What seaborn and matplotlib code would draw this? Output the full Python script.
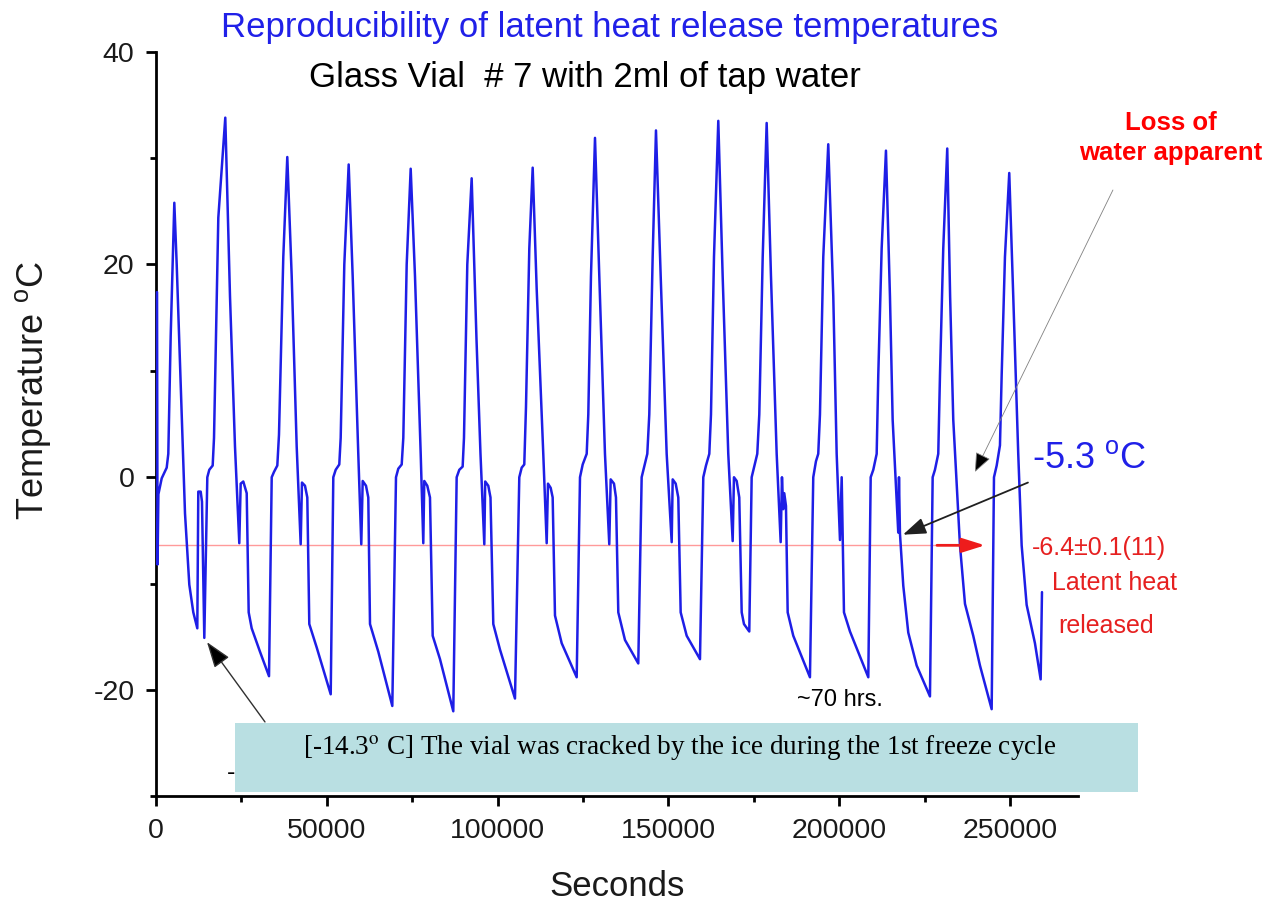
import matplotlib
matplotlib.use("Agg")
import matplotlib.pyplot as plt
from matplotlib.patches import Rectangle
from matplotlib.ticker import MultipleLocator
import seaborn as sns
import pandas as pd

# ---------------- data ----------------
time_s = [
    300, 450, 700, 1670, 3130, 3600, 4300, 5360, 6060, 7520, 8490, 9750, 10920, 12090, 12380, 13080, 13460, 14140,
    15020, 15600, 16590, 16980, 18240, 20280, 21660, 23120, 24380, 24790, 25550, 26550, 27130, 28010, 30440, 33080,
    33870, 34540, 35510, 36000, 37260, 38430, 39720, 41180, 42350, 42730, 43610, 44290, 44870, 47040, 51140,
    51900, 52600, 53650, 54060, 55120, 56400, 57570, 59210, 60090, 60500, 61470, 62140, 62640, 65070, 69170,
    70250, 70920, 71920, 72390, 73380, 74550, 75810, 77480, 78240, 78530, 79410, 80200, 80990, 83130, 87020,
    88010, 88780, 89760, 90150, 91120, 92400, 93810, 94980, 96100, 96360, 97270, 97910, 98730, 100690, 105080,
    106340, 107040, 107800, 108300, 109270, 110260, 111430, 113360, 114360, 114740, 115530, 116110, 116790, 118750, 123140,
    124110, 124900, 126070, 126540, 127320, 128500, 129760, 131420, 132680, 133090, 134060, 134640, 135320, 137280, 141170,
    142160, 142840, 143810, 144390, 145380, 146350, 147730, 149480, 150950, 151240, 152120, 152880, 153580, 155340, 159230,
    160200, 160990, 161960, 162450, 163330, 164590, 165870, 167510, 168800, 169180, 169970, 170730, 171440, 172110, 173660,
    174360, 175030, 176000, 176590, 177590, 178750, 180010, 181680, 182850, 183230, 183610, 183900, 184400, 184900, 186540, 191420,
    192390, 193180, 193850, 194350, 195320, 196780, 198250, 199240, 200210, 200710, 201000, 201380, 203140, 208500,
    209200, 209960, 210950, 211420, 212410, 213670, 214840, 215630, 217270, 217480, 217770, 218740, 220200, 222660, 226550,
    227340, 228010, 228980, 229480, 230440, 231610, 232450, 233370, 235330, 236800, 239220, 241190, 244610,
    245290, 246080, 247040, 247540, 248500, 249760, 250930, 252390, 253390, 254850, 257280, 258950, 259340,
]

temp_c = [
    17.4, -8.2, -1.6, -0.1, 0.9, 2.2, 13.3, 25.8, 20.0, 5.9, -3.4, -10.1, -12.7, -14.2, -1.35, -1.35, -2.3, -15.1,
    0.0, 0.7, 1.1, 3.7, 24.4, 33.8, 17.0, 2.9, -6.2, -0.6, -0.4, -1.5, -12.7, -14.2, -16.4, -18.7,
    0.0, 0.5, 1.1, 4.0, 20.7, 30.1, 18.9, 2.9, -6.3, -0.5, -0.8, -1.9, -13.8, -16.0, -20.4,
    0.0, 0.7, 1.2, 3.7, 20.0, 29.4, 18.9, 2.2, -6.3, -0.35, -0.8, -1.9, -13.8, -16.4, -21.5,
    0.0, 0.8, 1.2, 3.7, 20.0, 29.0, 18.9, 2.2, -6.2, -0.35, -0.8, -1.9, -14.9, -17.1, -22.0,
    0.0, 0.7, 1.0, 3.7, 20.0, 28.1, 13.0, 2.2, -6.3, -0.4, -0.8, -1.9, -13.8, -16.2, -20.8,
    0.0, 0.9, 1.2, 6.6, 21.5, 29.1, 17.7, 2.2, -6.2, -0.6, -1.0, -1.9, -13.0, -15.6, -18.8,
    0.0, 1.2, 2.2, 5.9, 18.9, 31.9, 18.9, 2.2, -6.3, -0.2, -0.6, -1.9, -12.7, -15.3, -17.5,
    0.0, 0.9, 2.2, 5.9, 20.7, 32.6, 18.9, 2.2, -6.1, -0.2, -0.6, -1.9, -12.7, -14.9, -17.1,
    0.0, 1.1, 2.2, 5.9, 20.7, 33.5, 18.9, 2.2, -6.0, 0.0, -0.35, -1.9, -12.7, -13.8, -14.5,
    0.0, 0.9, 2.2, 5.9, 20.7, 33.3, 18.9, 2.2, -6.1, 0.0, -3.0, -1.5, -2.7, -12.7, -14.9, -18.8,
    0.0, 1.5, 2.2, 5.9, 20.7, 31.3, 17.0, 2.2, -5.9, 0.0, -5.3, -12.7, -14.5, -18.8,
    0.0, 0.7, 2.2, 9.6, 21.5, 30.7, 17.0, 5.4, -5.2, 0.0, -5.3, -10.2, -14.6, -17.7, -20.6,
    0.0, 0.7, 2.2, 9.6, 21.5, 30.9, 17.0, 5.4, -6.4, -11.9, -14.9, -17.7, -21.8,
    0.0, 1.1, 3.0, 9.6, 20.7, 28.6, 17.0, 2.2, -6.4, -12.0, -15.6, -19.0, -10.8,
]
assert len(time_s) == len(temp_c)

latent_heat_temp = -6.4          # mean latent heat release temperature
latent_line_end = 228600         # seconds, where the red reference line ends
x_ticks = [0, 50000, 100000, 150000, 200000, 250000]
y_ticks = [-20, 0, 20, 40]

# annotation targets (data coords)
crack_point = (14930, -15.5)
crack_tail = (31900, -23.0)
loss_point = (239720, 0.5)
loss_tail = (280110, 27.0)
low_point = (218650, -5.4)
low_tail = (255230, -0.5)
red_arrow_from = (228600, -6.4)
red_arrow_to = (242650, -6.4)

# ---------------- style ----------------
sns.set_style("ticks")
plt.rcParams['font.family'] = ['Liberation Sans', 'DejaVu Sans']
plt.rcParams['mathtext.fontset'] = 'custom'
plt.rcParams['mathtext.rm'] = 'Liberation Sans'
plt.rcParams['mathtext.it'] = 'Liberation Sans:italic'
plt.rcParams['mathtext.bf'] = 'Liberation Sans:bold'
plt.rcParams['text.color'] = 'black'
plt.rcParams['axes.labelcolor'] = 'black'

W, H = 1276, 907
fig = plt.figure(figsize=(W / 100, H / 100), dpi=100)
fig.patch.set_facecolor('white')


def fx(px):
    return px / W


def fy(py):
    return 1 - py / H


ax = fig.add_axes([fx(156), fy(796.4), (1078.4 - 156) / W, (796.4 - 51.7) / H])
ax.set_facecolor('white')

df = pd.DataFrame({'Seconds': time_s, 'Temperature': temp_c})
sns.lineplot(data=df, x='Seconds', y='Temperature', sort=False, estimator=None,
             color='#1e1ee6', linewidth=1.8, ax=ax)
trace = ax.lines[-1]
trace.set_zorder(3)
trace.set_clip_on(False)

ax.plot([0, latent_line_end], [latent_heat_temp, latent_heat_temp],
        color='#ff9a9a', linewidth=1.0, zorder=1)

ax.set_xlim(0, 270000)
ax.set_ylim(-30, 40)
ax.set_xticks(x_ticks)
ax.set_yticks(y_ticks)
ax.set_xticklabels([str(v) for v in x_ticks])
ax.set_yticklabels([str(v) for v in y_ticks])
ax.xaxis.set_minor_locator(MultipleLocator(25000))
ax.yaxis.set_minor_locator(MultipleLocator(10))
sns.despine(ax=ax)
for s in ['left', 'bottom']:
    ax.spines[s].set_linewidth(2.0)
    ax.spines[s].set_color('black')
ax.tick_params(which='major', direction='out', length=7.5, width=2.0,
               labelsize=20.5, pad=8, colors='black', labelcolor='#1a1a1a')
ax.tick_params(which='minor', direction='out', length=4.5, width=2.0, colors='black')

ax.set_xlabel('Seconds', fontsize=25, color='#1a1a1a')
ax.xaxis.label.set_va('center')
ax.xaxis.set_label_coords((617 - 156) / 922.4, (796.4 - 887) / 744.7)
ax.set_ylabel('Temperature $^{\\mathrm{o}}$C', fontsize=26, color='#1a1a1a')
ax.yaxis.label.set_va('center')
ax.yaxis.set_label_coords((33 - 156) / 922.4, (796.4 - 391) / 744.7)

# ---------------- titles ----------------
fig.text(fx(610), fy(27), 'Reproducibility of latent heat release temperatures',
         ha='center', va='center', color='#2020e8', fontsize=25)
fig.text(fx(585), fy(78), 'Glass Vial  # 7 with 2ml of tap water',
         ha='center', va='center', color='black', fontsize=25)

# ---------------- annotations ----------------
fig.text(fx(1171), fy(138), 'Loss of\nwater apparent', ha='center', va='center',
         color='#ff0000', fontsize=18.5, fontweight='bold', linespacing=1.35)
ax.annotate('', xy=loss_point, xytext=loss_tail, annotation_clip=False,
            arrowprops=dict(arrowstyle='-|>,head_length=0.6,head_width=0.25',
                            color='#808080', lw=0.6, mutation_scale=20,
                            shrinkA=0, shrinkB=0, fc='black', ec='#808080'))

fig.text(fx(1032), fy(459), '-5.3 $^{\\mathrm{o}}$C', ha='left', va='center',
         color='#2020e8', fontsize=26)
ax.annotate('', xy=low_point, xytext=low_tail, annotation_clip=False,
            arrowprops=dict(arrowstyle='-|>,head_length=0.7,head_width=0.25',
                            color='#202020', lw=1.3, mutation_scale=20,
                            shrinkA=0, shrinkB=0))

ax.annotate('', xy=red_arrow_to, xytext=red_arrow_from, annotation_clip=False,
            arrowprops=dict(arrowstyle='-|>,head_length=0.7,head_width=0.22',
                            color='#ee1c1c', lw=2.0, mutation_scale=20,
                            shrinkA=0, shrinkB=0))
fig.text(fx(1032), fy(548), '-6.4\u00b10.1(11)', ha='left', va='center',
         color='#e62020', fontsize=18)
fig.text(fx(1114), fy(583), 'Latent heat', ha='center', va='center',
         color='#e62020', fontsize=18)
fig.text(fx(1106), fy(626), 'released', ha='center', va='center',
         color='#e62020', fontsize=18)

fig.text(fx(797), fy(700), '~70 hrs.', ha='left', va='center',
         color='black', fontsize=17)

ax.annotate('', xy=crack_point, xytext=crack_tail, annotation_clip=False,
            arrowprops=dict(arrowstyle='-|>,head_length=0.8,head_width=0.28',
                            color='#303030', lw=1.0, mutation_scale=20,
                            shrinkA=0, shrinkB=0, fc='black'))

box = Rectangle((fx(235), fy(792)), (1138 - 235) / W, (792 - 723) / H,
                transform=fig.transFigure, facecolor='#b9dfe2', edgecolor='none', zorder=2.5)
fig.add_artist(box)
fig.text(fx(303), fy(747), '[-14.3$^{\\mathrm{o}}$ C] The vial was cracked by the ice during the 1st freeze cycle',
         ha='left', va='center', color='black', fontsize=19.5,
         family=['Liberation Serif', 'DejaVu Serif'], math_fontfamily='stix', zorder=3)
fig.text(fx(231), fy(773), '-', ha='center', va='center', color='black', fontsize=18)

fig.savefig('out.png', dpi=100, facecolor='white')
